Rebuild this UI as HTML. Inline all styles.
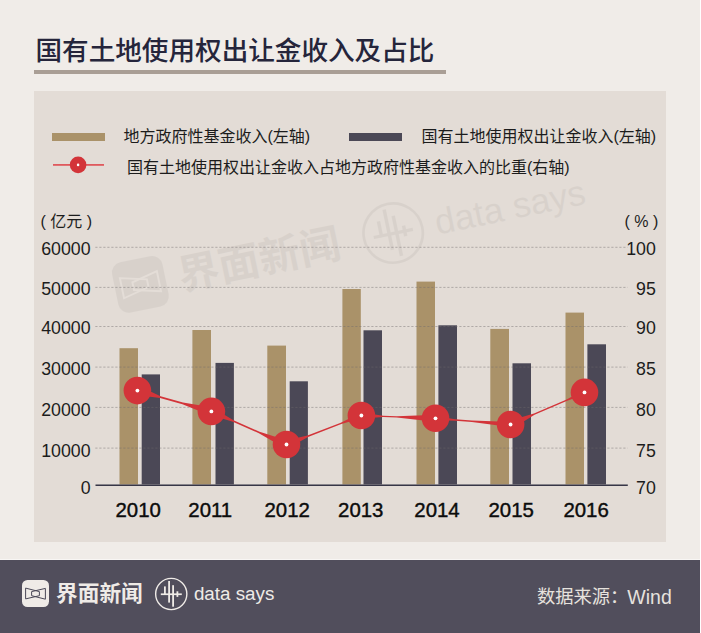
<!DOCTYPE html>
<html lang="zh"><head><meta charset="utf-8"><title>国有土地使用权出让金收入及占比</title>
<style>
html,body{margin:0;padding:0;background:#fff;}
body{width:701px;height:633px;position:relative;overflow:hidden;font-family:"Liberation Sans",sans-serif;}
#page{position:absolute;left:0;top:0;width:700px;height:633px;background:#f0ece8;}
#rule{position:absolute;left:34px;top:70px;width:412px;height:4px;background:#a99e95;}
#panel{position:absolute;left:34px;top:91px;width:632px;height:451px;background:#e3dcd6;}
#foot{position:absolute;left:0;top:560px;width:700px;height:73px;background:#514e5c;}
#footline{position:absolute;left:0;top:559px;width:700px;height:1px;background:#f8f6f4;}
svg{position:absolute;left:0;top:0;}
svg text{font-family:"Liberation Sans","Noto Sans CJK SC",sans-serif;}
</style></head><body>
<div id="page"><div id="rule"></div><div id="panel"></div><div id="footline"></div><div id="foot"></div></div>
<svg width="701" height="633" viewBox="0 0 701 633" role="img" aria-label="国有土地使用权出让金收入及占比">
<title>国有土地使用权出让金收入及占比</title>
<desc>地方政府性基金收入(左轴)、国有土地使用权出让金收入(左轴)、国有土地使用权出让金收入占地方政府性基金收入的比重(右轴)，2010-2016，亿元 / %。数据来源：Wind。界面新闻 data says</desc>
<text x="35.5" y="60" font-size="26.6" font-weight="500" fill="#25253b">国有土地使用权出让金收入及占比</text>
<rect x="52" y="133" width="53" height="8" fill="#aa9269"/>
<rect x="349" y="133" width="53" height="8" fill="#4b4856"/>
<rect x="53" y="164" width="51" height="1.8" fill="#df5a5e"/>
<circle cx="78.1" cy="164.9" r="8.3" fill="#d33439"/><circle cx="78.1" cy="164.9" r="1.3" fill="#fff"/>
<text x="123.5" y="142" font-size="16" fill="#1c1c1c">地方政府性基金收入(左轴)</text>
<text x="421.5" y="142" font-size="16" fill="#1c1c1c">国有土地使用权出让金收入(左轴)</text>
<text x="127" y="173.2" font-size="16" fill="#1c1c1c">国有土地使用权出让金收入占地方政府性基金收入的比重(右轴)</text>
<text x="66.2" y="227" font-size="16" fill="#1c1c1c" text-anchor="middle">( 亿元 )</text>
<text x="624.6" y="227.1" font-size="16" fill="#1c1c1c">( % )</text>
<text x="90.6" y="254.9" font-size="17.75" fill="#1c1c1c" text-anchor="end">60000</text>
<text x="655.8" y="254.7" font-size="17.75" fill="#1c1c1c" text-anchor="end">100</text>
<text x="90.6" y="295" font-size="17.75" fill="#1c1c1c" text-anchor="end">50000</text>
<text x="655.8" y="294.8" font-size="17.75" fill="#1c1c1c" text-anchor="end">95</text>
<text x="90.6" y="334.4" font-size="17.75" fill="#1c1c1c" text-anchor="end">40000</text>
<text x="655.8" y="333.9" font-size="17.75" fill="#1c1c1c" text-anchor="end">90</text>
<text x="90.6" y="375" font-size="17.75" fill="#1c1c1c" text-anchor="end">30000</text>
<text x="655.8" y="374.5" font-size="17.75" fill="#1c1c1c" text-anchor="end">85</text>
<text x="90.6" y="415.9" font-size="17.75" fill="#1c1c1c" text-anchor="end">20000</text>
<text x="655.8" y="415.7" font-size="17.75" fill="#1c1c1c" text-anchor="end">80</text>
<text x="90.6" y="456.6" font-size="17.75" fill="#1c1c1c" text-anchor="end">10000</text>
<text x="655.8" y="456.5" font-size="17.75" fill="#1c1c1c" text-anchor="end">75</text>
<text x="90.6" y="493.9" font-size="17.75" fill="#1c1c1c" text-anchor="end">0</text>
<text x="655.8" y="493.9" font-size="17.75" fill="#1c1c1c" text-anchor="end">70</text>
<g transform="translate(140.4,284.4) rotate(-11.7) scale(1.9) translate(-35.5,-593.5)" opacity="0.045"><rect x="22" y="580" width="27" height="27" rx="5.5" fill="#000"/><g fill="none" stroke="#fff" stroke-width="1" stroke-linejoin="miter"><path d="M25.6 588.1 L39.4 591.6 L39.4 595.7 L25.6 598.9 Z"/><path d="M45.4 588.4 L31.6 591.6 L31.6 595.7 L45.4 599.2 Z"/></g><text x="56" y="601" font-size="21.7" font-weight="bold" fill="#000">界面新闻</text><circle cx="171.25" cy="594" r="15.6" fill="none" stroke="#000" stroke-width="1.4"/><g fill="#000"><rect x="160.8" y="593.4" width="21" height="1.7"/><rect x="164" y="586.4" width="1.8" height="8.5"/><rect x="168.2" y="581" width="1.8" height="21.6"/><rect x="172.2" y="585.2" width="1.8" height="21.5"/><rect x="176.5" y="591.3" width="1.8" height="5.6"/></g><text x="193.9" y="599.6" font-size="18.8" fill="#000">data says</text></g>
<rect x="119.5" y="348.2" width="18.5" height="136.2" fill="#aa9269"/>
<rect x="141.7" y="374.4" width="18.3" height="110" fill="#4b4856"/>
<rect x="192.4" y="330" width="18.6" height="154.4" fill="#aa9269"/>
<rect x="215.5" y="362.9" width="18.4" height="121.5" fill="#4b4856"/>
<rect x="267.3" y="345.6" width="18.7" height="138.8" fill="#aa9269"/>
<rect x="289.7" y="381.3" width="18.2" height="103.1" fill="#4b4856"/>
<rect x="342.4" y="289" width="18.4" height="195.4" fill="#aa9269"/>
<rect x="363.5" y="330.3" width="18.5" height="154.1" fill="#4b4856"/>
<rect x="416.5" y="281.6" width="18.5" height="202.8" fill="#aa9269"/>
<rect x="438.4" y="325.3" width="18.6" height="159.1" fill="#4b4856"/>
<rect x="490.3" y="328.9" width="18.7" height="155.5" fill="#aa9269"/>
<rect x="512.5" y="363.3" width="18.5" height="121.1" fill="#4b4856"/>
<rect x="565.5" y="312.6" width="18.5" height="171.8" fill="#aa9269"/>
<rect x="587.4" y="344.3" width="18.6" height="140.1" fill="#4b4856"/>
<line x1="95.3" x2="627.6" y1="247.3" y2="247.3" stroke="#6e6a6c" stroke-opacity="0.45" stroke-width="1" stroke-dasharray="2.2 1.8"/>
<line x1="95.3" x2="627.6" y1="287.4" y2="287.4" stroke="#6e6a6c" stroke-opacity="0.45" stroke-width="1" stroke-dasharray="2.2 1.8"/>
<line x1="95.3" x2="627.6" y1="326.5" y2="326.5" stroke="#6e6a6c" stroke-opacity="0.45" stroke-width="1" stroke-dasharray="2.2 1.8"/>
<line x1="95.3" x2="627.6" y1="367.1" y2="367.1" stroke="#6e6a6c" stroke-opacity="0.45" stroke-width="1" stroke-dasharray="2.2 1.8"/>
<line x1="95.3" x2="627.6" y1="407.4" y2="407.4" stroke="#6e6a6c" stroke-opacity="0.45" stroke-width="1" stroke-dasharray="2.2 1.8"/>
<line x1="95.3" x2="627.6" y1="448.1" y2="448.1" stroke="#6e6a6c" stroke-opacity="0.45" stroke-width="1" stroke-dasharray="2.2 1.8"/>
<rect x="95.5" y="484.5" width="532.3" height="1.45" fill="#2f2e40"/>
<text x="115.5" y="516.7" font-size="20.4" fill="#0c0c0c" stroke="#0c0c0c" stroke-width="0.4">2010</text>
<text x="188.3" y="516.7" font-size="20.4" fill="#0c0c0c" stroke="#0c0c0c" stroke-width="0.4">2011</text>
<text x="264.5" y="516.7" font-size="20.4" fill="#0c0c0c" stroke="#0c0c0c" stroke-width="0.4">2012</text>
<text x="338.1" y="516.7" font-size="20.4" fill="#0c0c0c" stroke="#0c0c0c" stroke-width="0.4">2013</text>
<text x="414.3" y="516.7" font-size="20.4" fill="#0c0c0c" stroke="#0c0c0c" stroke-width="0.4">2014</text>
<text x="488.5" y="516.7" font-size="20.4" fill="#0c0c0c" stroke="#0c0c0c" stroke-width="0.4">2015</text>
<text x="563.4" y="516.7" font-size="20.4" fill="#0c0c0c" stroke="#0c0c0c" stroke-width="0.4">2016</text>
<polygon fill="#d33439" points="148,396.49 160.07,397.91 182.47,404.2 199.28,410.9 200.8,405.51 182.96,402.47 160.56,396.17 149.52,391.1"/>
<polygon fill="#d33439" points="221.27,418.26 232.86,421.73 258.91,433.21 274.57,442.3 276.83,437.18 259.55,431.75 233.5,420.27 223.13,414.05"/>
<polygon fill="#d33439" points="298.33,442.38 308.03,436.97 341.34,424.07 350.96,421.21 349.84,418.32 340.8,422.67 307.49,435.57 296.67,438.09"/>
<polygon fill="#d33439" points="373.12,417.74 383.16,416.97 396.7,417.48 423.61,420.4 423.8,415.31 396.75,416.19 383.21,415.67 373.26,414.15"/>
<polygon fill="#d33439" points="447.15,420.57 455.18,420.63 471.87,422.01 498.67,425.57 499.01,421.49 471.99,420.61 455.29,419.23 447.37,417.98"/>
<polygon fill="#d33439" points="522.44,422.14 534.54,414.86 566.62,400.93 574.19,398.29 573.16,395.91 566.06,399.65 533.99,413.58 520.41,417.46"/>
<circle cx="137.4" cy="390.6" r="13.8" fill="#d33439"/><circle cx="137.4" cy="390.6" r="1.9" fill="#fff"/>
<circle cx="211.4" cy="411.4" r="13.8" fill="#d33439"/><circle cx="211.4" cy="411.4" r="1.9" fill="#fff"/>
<circle cx="286.5" cy="444.5" r="13.8" fill="#d33439"/><circle cx="286.5" cy="444.5" r="1.9" fill="#fff"/>
<circle cx="361.4" cy="415.5" r="13.8" fill="#d33439"/><circle cx="361.4" cy="415.5" r="1.9" fill="#fff"/>
<circle cx="435.5" cy="418.3" r="13.8" fill="#d33439"/><circle cx="435.5" cy="418.3" r="1.9" fill="#fff"/>
<circle cx="510.6" cy="424.5" r="13.8" fill="#d33439"/><circle cx="510.6" cy="424.5" r="1.9" fill="#fff"/>
<circle cx="584.5" cy="392.4" r="13.8" fill="#d33439"/><circle cx="584.5" cy="392.4" r="1.9" fill="#fff"/>
<rect x="22" y="580" width="27" height="27" rx="5.5" fill="#efebe7"/><g fill="none" stroke="#4a4857" stroke-width="1" stroke-linejoin="miter"><path d="M25.6 588.1 L39.4 591.6 L39.4 595.7 L25.6 598.9 Z"/><path d="M45.4 588.4 L31.6 591.6 L31.6 595.7 L45.4 599.2 Z"/></g><text x="56" y="601" font-size="21.7" font-weight="bold" fill="#efebe7">界面新闻</text><circle cx="171.25" cy="594" r="15.6" fill="none" stroke="#efebe7" stroke-width="1.4"/><g fill="#efebe7"><rect x="160.8" y="593.4" width="21" height="1.7"/><rect x="164" y="586.4" width="1.8" height="8.5"/><rect x="168.2" y="581" width="1.8" height="21.6"/><rect x="172.2" y="585.2" width="1.8" height="21.5"/><rect x="176.5" y="591.3" width="1.8" height="5.6"/></g><text x="193.9" y="599.6" font-size="18.8" fill="#efebe7">data says</text>
<text x="537" y="603" font-size="18.3" fill="#e6e2de">数据来源：</text>
<text x="627.3" y="603.9" font-size="19.5" fill="#e6e2de">Wind</text>
</svg>
</body></html>
